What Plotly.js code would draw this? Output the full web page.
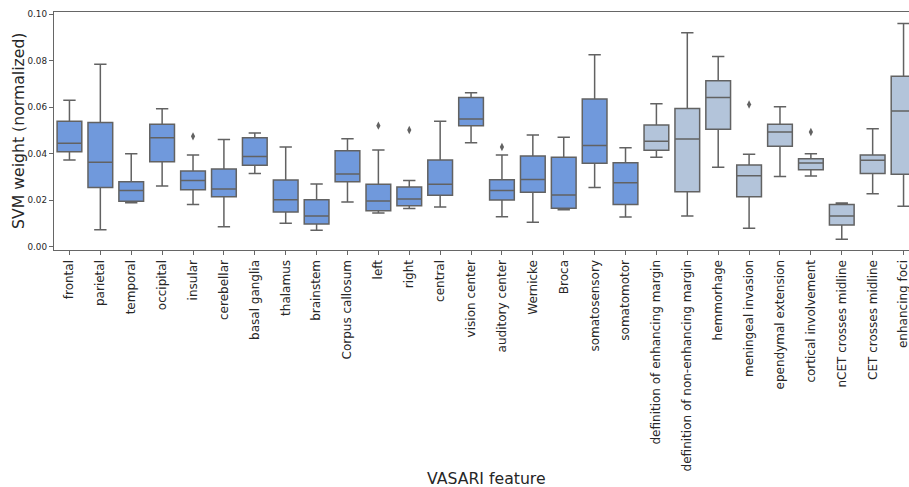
<!DOCTYPE html>
<html>
<head>
<meta charset="utf-8">
<script src="https://cdn.plot.ly/plotly-3.0.1.min.js"></script>
<style>
  html, body { margin: 0; padding: 0; overflow: hidden; background: #fff; }
  #chart { width: 921px; height: 487px; }
</style>
</head>
<body>
<div id="chart"></div>
<script>
// VASARI features: brain location group followed by imaging descriptor group
const locationFeatures = ["frontal", "parietal", "temporal", "occipital", "insular", "cerebellar",
  "basal ganglia", "thalamus", "brainstem", "Corpus callosum", "left", "right", "central",
  "vision center", "auditory center", "Wernicke", "Broca", "somatosensory", "somatomotor"];
const locLower  = [0.0373, 0.0074, 0.0190, 0.0262, 0.0182, 0.0087, 0.0315, 0.0102, 0.0072, 0.0193, 0.0146, 0.0165, 0.0172, 0.0448, 0.0130, 0.0106, 0.0160, 0.0255, 0.0129];
const locQ1     = [0.0409, 0.0255, 0.0196, 0.0366, 0.0246, 0.0216, 0.0351, 0.0150, 0.0099, 0.0280, 0.0156, 0.0177, 0.0222, 0.0521, 0.0202, 0.0235, 0.0166, 0.0359, 0.0182];
const locMedian = [0.0445, 0.0364, 0.0243, 0.0469, 0.0285, 0.0249, 0.0389, 0.0203, 0.0133, 0.0313, 0.0197, 0.0206, 0.0269, 0.0549, 0.0243, 0.0290, 0.0223, 0.0436, 0.0276];
const locQ3     = [0.0540, 0.0534, 0.0280, 0.0527, 0.0326, 0.0335, 0.0469, 0.0288, 0.0203, 0.0413, 0.0269, 0.0258, 0.0373, 0.0642, 0.0289, 0.0391, 0.0385, 0.0635, 0.0362];
const locUpper  = [0.0630, 0.0785, 0.0400, 0.0594, 0.0395, 0.0462, 0.0489, 0.0429, 0.0270, 0.0465, 0.0416, 0.0285, 0.0540, 0.0662, 0.0395, 0.0481, 0.0471, 0.0825, 0.0426];

const imagingFeatures = ["definition of enhancing margin", "definition of non-enhancing margin",
  "hemmorhage", "meningeal invasion", "ependymal extension", "cortical involvement",
  "nCET crosses midline", "CET crosses midline", "enhancing foci"];
const imgLower  = [0.0385, 0.0133, 0.0342, 0.0080, 0.0303, 0.0305, 0.0033, 0.0229, 0.0175];
const imgQ1     = [0.0415, 0.0237, 0.0505, 0.0216, 0.0433, 0.0332, 0.0094, 0.0316, 0.0312];
const imgMedian = [0.0454, 0.0464, 0.0642, 0.0306, 0.0494, 0.0361, 0.0133, 0.0372, 0.0584];
const imgQ3     = [0.0524, 0.0595, 0.0714, 0.0352, 0.0527, 0.0379, 0.0182, 0.0395, 0.0733];
const imgUpper  = [0.0615, 0.0920, 0.0818, 0.0398, 0.0602, 0.0400, 0.0189, 0.0508, 0.0960];

// points beyond the whiskers
const outlierFeatures = ["insular", "left", "right", "auditory center", "meningeal invasion", "cortical involvement"];
const outlierValues   = [0.0475, 0.0521, 0.0502, 0.0429, 0.0612, 0.0494];

const allFeatures = locationFeatures.concat(imagingFeatures);

const edge = "#626262";
const font = "DejaVu Sans, Liberation Sans, sans-serif";

function boxTrace(x, lo, q1, med, q3, hi, fill) {
  return {
    type: "box", x: x,
    lowerfence: lo, q1: q1, median: med, q3: q3, upperfence: hi,
    width: 0.8, whiskerwidth: 0.5,
    fillcolor: fill,
    line: { color: edge, width: 1.5 },
    boxpoints: false, showlegend: false, hoverinfo: "skip"
  };
}

const traces = [
  boxTrace(locationFeatures, locLower, locQ1, locMedian, locQ3, locUpper, "#7099dc"),
  boxTrace(imagingFeatures, imgLower, imgQ1, imgMedian, imgQ3, imgUpper, "#b3c4da"),
  {
    type: "scatter", mode: "markers", x: outlierFeatures, y: outlierValues,
    marker: { symbol: "diamond-tall", size: 6, color: edge },
    showlegend: false, hoverinfo: "skip"
  }
];

const layout = {
  width: 921, height: 487,
  margin: { l: 54, r: 2, t: 12, b: 237 },
  paper_bgcolor: "#fff", plot_bgcolor: "#fff",
  boxmode: "overlay",
  font: { family: font, color: "#262626" },
  xaxis: {
    type: "category", categoryorder: "array", categoryarray: allFeatures,
    range: [-0.5, 27.5],
    showgrid: false, zeroline: false,
    showline: true, mirror: true, linecolor: "#666", linewidth: 1.2,
    ticks: "outside", ticklen: 4, tickcolor: "#666", tickwidth: 1,
    tickangle: -90,
    tickfont: { family: font, size: 12, color: "#262626" }
  },
  yaxis: {
    range: [-0.0013, 0.1009],
    tickvals: [0, 0.02, 0.04, 0.06, 0.08, 0.10],
    ticktext: ["0.00", "0.02", "0.04", "0.06", "0.08", "0.10"],
    showgrid: false, zeroline: false,
    showline: true, mirror: false, linecolor: "#666", linewidth: 1.2,
    ticks: "outside", ticklen: 4, tickcolor: "#666", tickwidth: 1,
    tickfont: { family: font, size: 8.8, color: "#262626" }
  },
  annotations: [
    {
      text: "SVM weight (normalized)", textangle: -90,
      xref: "paper", yref: "paper", x: -0.0416, y: 0.5,
      xanchor: "center", yanchor: "middle", showarrow: false,
      font: { family: font, size: 15.7, color: "#262626" }
    },
    {
      text: "VASARI feature",
      xref: "paper", yref: "paper", x: 0.5, y: -0.958,
      xanchor: "center", yanchor: "middle", showarrow: false,
      font: { family: font, size: 15.7, color: "#262626" }
    }
  ]
};

Plotly.newPlot("chart", traces, layout, { displayModeBar: false, staticPlot: true });
</script>
</body>
</html>
